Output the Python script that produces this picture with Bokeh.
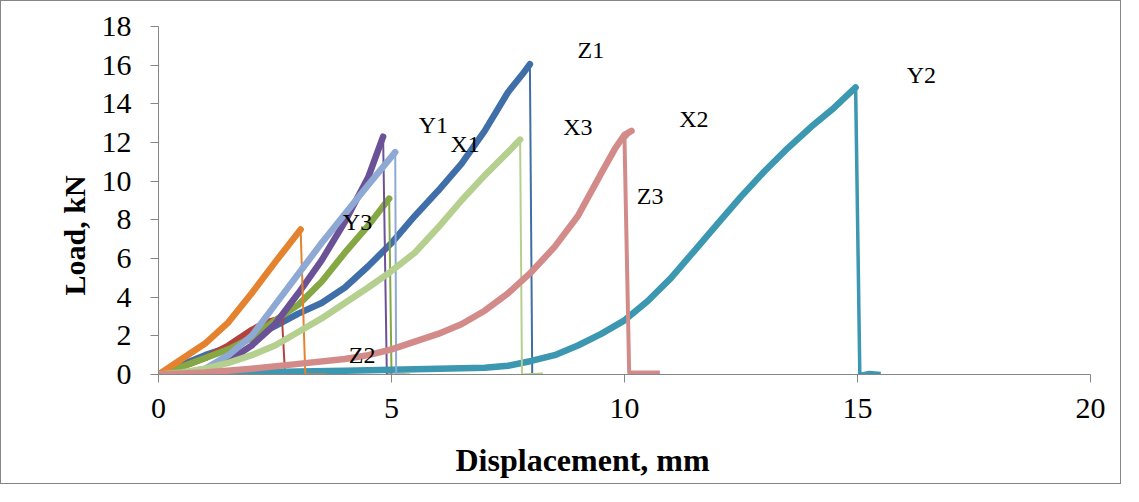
import numpy as np
from bokeh.plotting import figure
from bokeh.models import Range1d, ColumnDataSource, FixedTicker, Title
from bokeh.core.properties import value
from bokeh.embed import file_html
from bokeh.resources import INLINE

FONT = "Liberation Serif"

# ---- data (displacement mm, load kN) ----
blue_x = [0, 0.5, 1.0, 1.5, 2.0, 2.5, 3.0, 3.5, 4.0, 4.5, 5.0, 5.5, 6.0, 6.5, 7.0, 7.5, 7.8, 7.97, 8.02]
blue_y = [0, 0.5, 1.0, 1.4, 1.9, 2.5, 3.15, 3.7, 4.5, 5.6, 6.8, 8.2, 9.5, 10.9, 12.6, 14.6, 15.5, 16.05, 0.0]

red_x = [0, 0.5, 1.0, 1.5, 2.0, 2.3, 2.65, 2.72, 2.85]
red_y = [0, 0.4, 0.85, 1.5, 2.3, 2.7, 2.9, -0.15, -0.1]

green_x = [0, 0.5, 1.0, 1.5, 2.0, 2.5, 3.0, 3.5, 4.0, 4.5, 4.95, 5.0, 5.4]
green_y = [0, 0.4, 0.85, 1.3, 1.9, 2.8, 3.6, 4.8, 6.3, 7.7, 9.1, 0.0, 0.0]

purple_x = [0, 0.5, 1.0, 1.5, 2.0, 2.5, 3.0, 3.5, 4.0, 4.5, 4.82, 4.9, 5.0]
purple_y = [0, 0.02, 0.2, 0.7, 1.5, 2.6, 4.2, 5.9, 7.9, 10.2, 12.3, 0.0, 0.0]

teal_x = [0, 1, 2, 3, 4, 5, 6, 7, 7.5, 8.0, 8.5, 9.0, 9.5, 10.0, 10.5, 11.0, 11.5, 12.0,
          12.5, 13.0, 13.5, 14.0, 14.5, 14.96, 15.05, 15.25, 15.5]
teal_y = [0, 0.05, 0.1, 0.15, 0.2, 0.25, 0.3, 0.35, 0.45, 0.7, 1.0, 1.5, 2.1, 2.8, 3.8, 5.0, 6.4, 7.8,
          9.2, 10.5, 11.7, 12.8, 13.8, 14.85, 0.0, 0.1, 0.05]

orange_x = [0, 0.5, 1.0, 1.5, 2.0, 2.5, 3.05, 3.15, 3.6]
orange_y = [0, 0.8, 1.6, 2.7, 4.2, 5.8, 7.5, 0.0, 0.0]

lblue_x = [0, 0.5, 1.0, 1.5, 2.0, 2.5, 3.0, 3.5, 4.0, 4.5, 5.08, 5.1, 5.3]
lblue_y = [0, 0.05, 0.3, 1.0, 2.0, 3.6, 5.2, 6.8, 8.3, 9.8, 11.5, 0.0, 0.0]

lgreen_x = [0, 0.5, 1.0, 1.5, 2.0, 2.5, 3.0, 3.5, 4.0, 4.5, 5.0, 5.5, 6.0, 6.5, 7.0, 7.5, 7.76, 7.8, 8.25]
lgreen_y = [0, 0.1, 0.3, 0.6, 1.0, 1.5, 2.2, 2.9, 3.7, 4.5, 5.35, 6.3, 7.6, 9.0, 10.3, 11.5, 12.15, 0.0, 0.05]

pink_x = [0, 1, 2, 3, 4, 4.5, 5.0, 5.5, 6.0, 6.5, 7.0, 7.5, 8.0, 8.5, 9.0, 9.5, 9.8, 10.0, 10.15, 10.0, 10.1, 10.76]
pink_y = [0, 0.1, 0.3, 0.55, 0.8, 1.0, 1.3, 1.7, 2.1, 2.6, 3.3, 4.2, 5.3, 6.6, 8.2, 10.4, 11.7, 12.4, 12.6, 12.2, 0.1, 0.1]

label_text = ["Z1", "Y2", "Y1", "X1", "X3", "X2", "Z3", "Y3", "Z2"]
label_x = [9.28, 16.37, 5.90, 6.58, 9.0, 11.49, 10.55, 4.27, 4.37]
label_y = [16.78, 15.47, 12.89, 11.9, 12.81, 13.2, 9.23, 7.89, 1.0]

x_ticks = [0, 5, 10, 15, 20]
y_ticks = [0, 2, 4, 6, 8, 10, 12, 14, 16, 18]

x_title = "Displacement, mm"
y_title = "Load, kN"

# ---- styles ----
series = [
    (blue_x, blue_y, "#3F6EA8", 2),
    (red_x, red_y, "#B5413C", 2),
    (green_x, green_y, "#86A844", 2),
    (purple_x, purple_y, "#6B5297", 2),
    (teal_x, teal_y, "#3C97B0", 3.5),
    (orange_x, orange_y, "#E5822F", 2),
    (lblue_x, lblue_y, "#8DA9D4", 2),
    (lgreen_x, lgreen_y, "#B5CF8F", 2),
    (pink_x, pink_y, "#D38B8A", 4),
]

p = figure(width=1121, height=484, output_backend="svg", toolbar_location=None,
           x_range=Range1d(0, 20), y_range=Range1d(0, 18),
           min_border_left=157, min_border_right=32, min_border_top=25, min_border_bottom=111)
p.styles = {"border": "1px solid #868686"}
p.xgrid.visible = False
p.ygrid.visible = False
p.outline_line_color = None
p.background_fill_color = "white"
p.border_fill_color = "white"

for xs, ys, col, dw in series:
    k = int(np.argmax(ys))
    p.line(xs[:k + 1], ys[:k + 1], line_color=col, line_width=6.5, line_join="round", line_cap="round")
    p.line(xs[k:], ys[k:], line_color=col, line_width=dw, line_join="round")

src = ColumnDataSource(dict(x=label_x, y=label_y, t=label_text))
p.text(x="x", y="y", text="t", source=src, text_font=value(FONT), text_font_size="24px",
       text_align="center", text_baseline="middle", text_color="black")

for ax in (p.xaxis[0], p.yaxis[0]):
    ax.axis_line_color = "#868686"
    ax.major_tick_line_color = "#868686"
    ax.major_tick_out = 8
    ax.major_tick_in = 0
    ax.minor_tick_line_color = None
    ax.major_label_text_font = FONT
    ax.major_label_text_font_size = "30px"
    ax.major_label_text_color = "black"

p.xaxis.ticker = FixedTicker(ticks=x_ticks)
p.yaxis.ticker = FixedTicker(ticks=y_ticks)
p.yaxis.major_label_standoff = 19
p.xaxis.major_label_standoff = 16

# spacers between axes and titles
p.add_layout(Title(text=" ", text_font_size="1px", standoff=16), "below")
p.add_layout(Title(text=x_title, align="left", offset=297, standoff=0,
                   text_font=FONT, text_font_style="bold", text_font_size="32px",
                   text_color="black"), "below")
p.add_layout(Title(text=" ", text_font_size="2px", standoff=4), "left")
p.add_layout(Title(text=y_title, align="left", offset=79, standoff=0,
                   text_font=FONT, text_font_style="bold", text_font_size="30px",
                   text_color="black"), "left")

open("out.html", "w").write(file_html(p, INLINE))
